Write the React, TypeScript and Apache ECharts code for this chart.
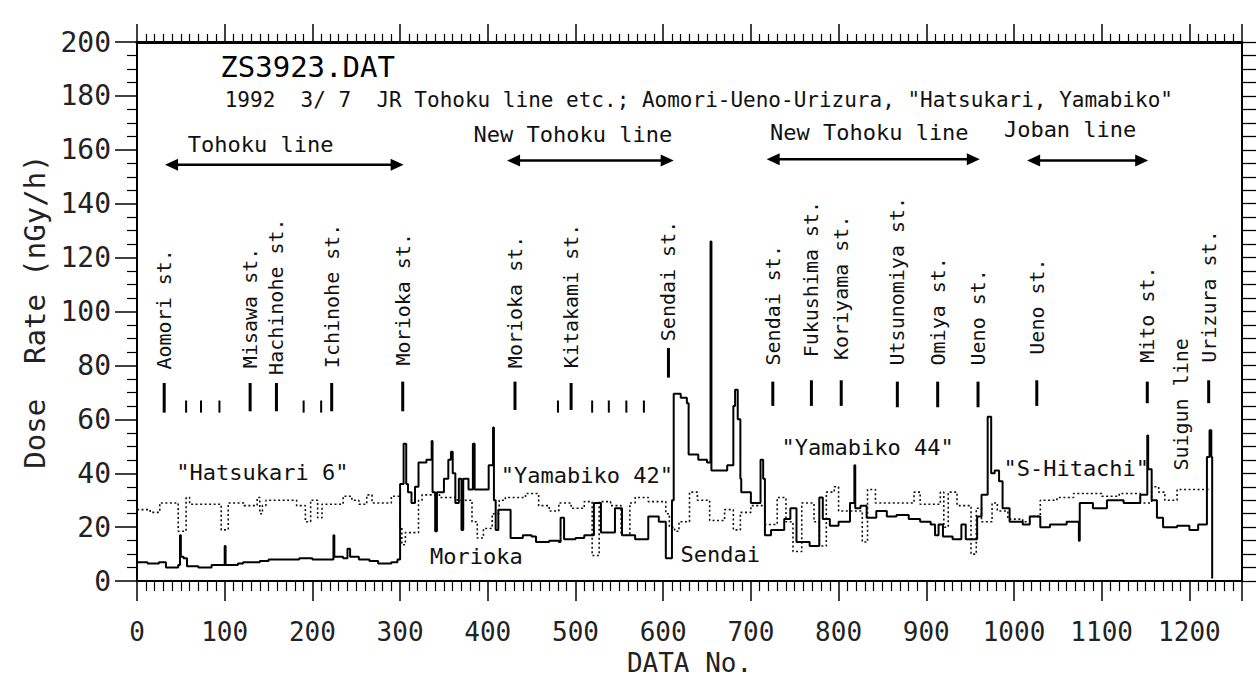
import React, { useEffect, useRef } from "react";
import * as echarts from "echarts";

const MONO = '"DejaVu Sans Mono", "Liberation Mono", monospace';

// ---------- data ----------
// each pair: [DATA No. where the level starts, dose rate nGy/h]
const solidTrace: [number, number][] = [
  [0, 7], [12, 6.5], [25, 7], [33, 5], [47, 6], [49, 17], [50, 9], [53, 8.5], [57, 5.5], [70, 5],
  [85, 6], [100, 13], [101, 6], [115, 6.5], [121, 7], [140, 7.5], [150, 8], [167, 8], [185, 8.5],
  [200, 8], [224, 17], [225, 9], [235, 8.5], [240, 12], [243, 9], [253, 8], [265, 7.5], [275, 6.5],
  [290, 7], [297, 8], [300, 36], [304, 51], [307, 36], [309, 33], [313, 29], [317, 35], [321, 44],
  [330, 45], [336, 52], [337, 33], [340, 18.5], [342, 33], [350, 38], [355, 45], [358, 48], [360, 40],
  [363, 29], [367, 38], [370, 19], [372, 38], [378, 34], [383, 51], [385, 34], [401, 43], [406, 57],
  [407, 30], [409, 19], [412, 26.5], [426, 16], [440, 17], [450, 16.5], [455, 14.5], [470, 15],
  [481, 14.5], [483, 23.5], [487, 15.5], [500, 16], [510, 17], [521, 29], [529, 18], [545, 27],
  [553, 17], [568, 15.5], [583, 24], [595, 22], [603, 8.5], [610, 30], [612, 69.5], [620, 68],
  [627, 66], [629, 47], [640, 45], [650, 44], [654, 126], [655, 41], [673, 43], [680, 65], [682, 71],
  [685, 60], [688, 38], [689, 33], [700, 29], [711, 45], [714, 38], [716, 17], [723, 19], [738, 23],
  [745, 27], [752, 14.5], [767, 13], [778, 31], [782, 23], [790, 20.5], [800, 22], [813, 29],
  [818, 43], [819, 27], [825, 28], [832, 23.5], [843, 26], [855, 24], [866, 24.5], [880, 23],
  [893, 22], [905, 21], [910, 17], [914, 21], [919, 16.5], [930, 15.5], [940, 21], [945, 15.5],
  [958, 24], [963, 32], [970, 61], [974, 40], [978, 41], [983, 37], [987, 27], [995, 22], [1010, 21],
  [1018, 24], [1030, 20], [1041, 21], [1060, 22], [1074, 15], [1075, 29], [1090, 27], [1106, 30],
  [1125, 29], [1144, 32], [1152, 54], [1153, 41.5], [1157, 30], [1163, 23.5], [1170, 20],
  [1186, 20.5], [1200, 19], [1210, 21], [1220, 46], [1223, 56], [1225, 46], [1226, 1],
];

const dottedTrace: [number, number][] = [
  [0, 26.5], [15, 25.5], [26, 29], [47, 18.5], [56, 31], [60, 28.5], [96, 19], [104, 29], [122, 28],
  [137, 31], [140, 25], [143, 28], [147, 30], [182, 28], [192, 22], [198, 30], [206, 23.5],
  [211, 28.5], [235, 31.5], [245, 30], [253, 28.5], [262, 32], [268, 29], [290, 31.5], [300, 20],
  [302, 13.5], [306, 18], [321, 30], [325, 32], [345, 31], [365, 30], [382, 22], [388, 16],
  [395, 19.5], [405, 25], [413, 30], [420, 31], [443, 32.5], [458, 28], [470, 26], [481, 29],
  [495, 27], [510, 29.5], [519, 9.5], [527, 29.5], [540, 28], [552, 17], [562, 29], [568, 31],
  [583, 29.5], [603, 25], [607, 20], [613, 18.5], [618, 22], [630, 33], [639, 30], [653, 22.5],
  [670, 26.5], [680, 19], [688, 25.5], [700, 28], [716, 21], [730, 31], [740, 22], [748, 11],
  [758, 29], [772, 22], [778, 13], [786, 33], [795, 35], [800, 26], [827, 14.5], [833, 34], [842, 29],
  [886, 33], [893, 28.5], [916, 33], [920, 20], [925, 33], [935, 28], [951, 10], [957, 27], [963, 22],
  [975, 29], [981, 26], [993, 23], [1010, 22], [1018, 24], [1030, 30], [1049, 31], [1068, 32.5],
  [1100, 31.5], [1120, 32.5], [1144, 29], [1157, 35], [1165, 33], [1172, 30], [1186, 34],
  [1220, 34], [1222, 34],
];

const stationNames = [
  "Aomori st.", "Misawa st.", "Hachinohe st.", "Ichinohe st.", "Morioka st.", "Morioka st.",
  "Kitakami st.", "Sendai st.", "Sendai st.", "Fukushima st.", "Koriyama st.", "Utsunomiya st.",
  "Omiya st.", "Ueno st.", "Ueno st.", "Mito st.", "Urizura st.",
];
const stationNo = [31, 129, 159, 222, 303, 431, 495, 606, 725, 769, 803, 867, 913, 959, 1026, 1152, 1222];
const minorStopNo = [56, 73, 94, 190, 210, 480, 519, 538, 558, 578];

const routeNames = ["Tohoku line", "New Tohoku line", "New Tohoku line", "Joban line"];
const routeFromNo = [32, 422, 718, 1015];
const routeToNo = [304, 612, 961, 1153];

const trainNames = ['"Hatsukari 6"', '"Yamabiko 42"', '"Yamabiko 44"', '"S-Hitachi"', "Morioka", "Sendai"];

const titleText = "ZS3923.DAT";
const subtitleText = '1992  3/ 7  JR Tohoku line etc.; Aomori-Ueno-Urizura, "Hatsukari, Yamabiko"';

// ---------- layout (annotation placement in data units) ----------
const stationLabelBase = [78.5, 79, 76.5, 79, 80, 79, 79, 89, 80, 83, 82, 80, 80, 80, 84, 81, 81];
const stationMarkTop = [73.5, 73.5, 73.5, 73.5, 74, 74, 73.5, 86.5, 74, 74.5, 74.5, 74, 74, 74, 74.5, 74, 74.5];
const stationMarkBottom = [62.5, 63, 63, 63, 63, 63.5, 63.5, 75.5, 65, 65, 65, 64.5, 64.5, 64.5, 65, 66, 66];
const routeArrowRate = [154.5, 156, 156.5, 156];
const routeLabelNo = [141, 497, 835, 1064];
const routeLabelRate = [161.8, 165.8, 166.5, 167.6];
const trainLabelNo = [143, 513, 833, 1071, 387, 665];
const trainLabelRate = [40.4, 39.3, 49.5, 41.8, 9, 10];

export default function App() {
  const ref = useRef<HTMLDivElement>(null);

  useEffect(() => {
    if (!ref.current) return;
    const chart = echarts.init(ref.current, undefined, { renderer: "svg" });

    const textSeries = (
      name: string,
      rows: number[][],
      texts: string[],
      size: number,
      rotate: boolean,
      align: string,
      extra: any = {}
    ) => ({
      type: "custom",
      name,
      coordinateSystem: "cartesian2d",
      xAxisIndex: 0,
      yAxisIndex: 0,
      silent: true,
      clip: false,
      z: 6,
      data: rows,
      renderItem: (params: any, api: any) => {
        const p = api.coord([api.value(0), api.value(1)]);
        return {
          type: "text",
          x: p[0],
          y: p[1],
          rotation: rotate ? Math.PI / 2 : 0,
          style: {
            text: texts[params.dataIndex],
            fontFamily: MONO,
            fontSize: size,
            fill: "#111",
            align,
            verticalAlign: "middle",
            ...extra,
          },
        };
      },
    });

    const axisText = { fontFamily: MONO, color: "#222" };

    const option: any = {
      animation: false,
      backgroundColor: "#fff",
      grid: { left: 137, right: 15, top: 42, bottom: 88, containLabel: false },
      xAxis: [
        {
          type: "value",
          min: 0,
          max: 1260,
          interval: 100,
          position: "bottom",
          axisLine: { show: true, onZero: false, lineStyle: { color: "#000", width: 2 } },
          axisTick: { show: true, length: 20, lineStyle: { color: "#000", width: 1.5 } },
          minorTick: { show: true, splitNumber: 10, length: 10, lineStyle: { color: "#000", width: 1.2 } },
          splitLine: { show: false },
          axisLabel: {
            ...axisText,
            margin: 38,
            fontSize: 26,
            showMaxLabel: false,
            formatter: (v: number) => String(v),
          },
          name: "DATA No.",
          nameLocation: "middle",
          nameGap: 64,
          nameTextStyle: { ...axisText, fontSize: 26 },
        },
        {
          type: "value",
          min: 0,
          max: 1260,
          interval: 100,
          position: "top",
          axisLine: { show: true, onZero: false, lineStyle: { color: "#000", width: 3 } },
          axisTick: { show: true, length: 18, lineStyle: { color: "#000", width: 1.5 } },
          minorTick: { show: true, splitNumber: 10, length: 8, lineStyle: { color: "#000", width: 1.2 } },
          splitLine: { show: false },
          axisLabel: { show: false },
        },
      ],
      yAxis: [
        {
          type: "value",
          min: 0,
          max: 200,
          interval: 20,
          position: "left",
          axisLine: { show: true, onZero: false, lineStyle: { color: "#000", width: 2 } },
          axisTick: { show: true, length: 22, lineStyle: { color: "#000", width: 1.5 } },
          minorTick: { show: true, splitNumber: 4, length: 10, lineStyle: { color: "#000", width: 1.2 } },
          splitLine: { show: false },
          axisLabel: {
            ...axisText,
            margin: 26,
            fontSize: 28,
            formatter: (v: number) => String(v),
          },
          name: "Dose  Rate (nGy/h)",
          nameLocation: "middle",
          nameGap: 88,
          nameRotate: 90,
          nameTextStyle: { ...axisText, fontSize: 29 },
        },
        {
          type: "value",
          min: 0,
          max: 200,
          interval: 5,
          position: "right",
          axisLine: { show: true, onZero: false, lineStyle: { color: "#000", width: 2 } },
          axisTick: { show: true, length: 14, lineStyle: { color: "#000", width: 1.3 } },
          splitLine: { show: false },
          axisLabel: { show: false },
        },
      ],
      series: [
        {
          type: "line",
          name: "dotted",
          xAxisIndex: 0,
          yAxisIndex: 0,
          step: "end",
          showSymbol: false,
          symbol: "none",
          data: dottedTrace,
          lineStyle: { color: "#111", width: 1.6, type: [2, 2.5] },
          z: 3,
        },
        {
          type: "line",
          name: "solid",
          xAxisIndex: 0,
          yAxisIndex: 0,
          step: "end",
          showSymbol: false,
          symbol: "none",
          data: solidTrace,
          lineStyle: { color: "#000", width: 2 },
          z: 4,
        },
        // station markers
        {
          type: "custom",
          name: "stations",
          coordinateSystem: "cartesian2d",
          xAxisIndex: 0,
          yAxisIndex: 0,
          silent: true,
          data: [
            ...stationNo.map((d, i) => [d, stationMarkTop[i], stationMarkBottom[i], 3]),
            ...minorStopNo.map((d) => [d, 67, 62.5, 2]),
          ],
          renderItem: (params: any, api: any) => {
            const a = api.coord([api.value(0), api.value(1)]);
            const b = api.coord([api.value(0), api.value(2)]);
            return {
              type: "line",
              shape: { x1: a[0], y1: a[1], x2: b[0], y2: b[1] },
              style: { stroke: "#000", lineWidth: api.value(3) },
            };
          },
        },
        // route arrows
        {
          type: "custom",
          name: "routes",
          coordinateSystem: "cartesian2d",
          xAxisIndex: 0,
          yAxisIndex: 0,
          silent: true,
          data: routeFromNo.map((d, i) => [d, routeToNo[i], routeArrowRate[i]]),
          renderItem: (params: any, api: any) => {
            const a = api.coord([api.value(0), api.value(2)]);
            const b = api.coord([api.value(1), api.value(2)]);
            const L = 13;
            const H = 6;
            return {
              type: "group",
              children: [
                {
                  type: "line",
                  shape: { x1: a[0] + 4, y1: a[1], x2: b[0] - 4, y2: b[1] },
                  style: { stroke: "#000", lineWidth: 2.5 },
                },
                {
                  type: "polygon",
                  shape: { points: [[a[0], a[1]], [a[0] + L, a[1] - H], [a[0] + L, a[1] + H]] },
                  style: { fill: "#000" },
                },
                {
                  type: "polygon",
                  shape: { points: [[b[0], b[1]], [b[0] - L, b[1] - H], [b[0] - L, b[1] + H]] },
                  style: { fill: "#000" },
                },
              ],
            };
          },
        },
        textSeries(
          "stationLabels",
          stationNo.map((d, i) => [d, stationLabelBase[i]]),
          stationNames,
          20,
          true,
          "left"
        ),
        textSeries("suigun", [[1190, 41]], ["Suigun line"], 20, true, "left"),
        textSeries(
          "routeLabels",
          routeLabelNo.map((d, i) => [d, routeLabelRate[i]]),
          routeNames,
          22,
          false,
          "center"
        ),
        textSeries(
          "trainLabels",
          trainLabelNo.map((d, i) => [d, trainLabelRate[i]]),
          trainNames,
          22,
          false,
          "center"
        ),
        textSeries("subtitle", [[100, 178.5]], [subtitleText], 21, false, "left"),
        textSeries("title", [[95, 190.7]], [titleText], 29, false, "left", {
          fill: "#000",
        }),
      ],
    };

    chart.setOption(option);
    return () => chart.dispose();
  }, []);

  return (
    <div
      ref={ref}
      style={{ position: "fixed", left: 0, top: 0, width: 1257, height: 681, background: "#fff" }}
    />
  );
}
